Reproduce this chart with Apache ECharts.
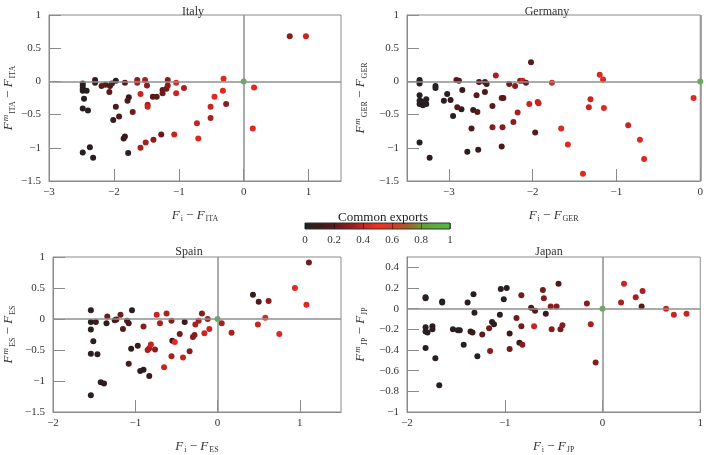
<!DOCTYPE html>
<html>
<head>
<meta charset="utf-8">
<script src="https://cdn.jsdelivr.net/npm/echarts@6/dist/echarts.min.js"></script>
<style>
  html, body { margin: 0; padding: 0; background: #fff; }
  #chart { width: 706px; height: 455px; }
</style>
</head>
<body>
<div id="chart"></div>
<script>
// [F_i - F_c, F^m_c - F_c, common exports share]
const italy = [
  [-2.48,-0.03,0.02],[-2.48,-0.07,0.02],[-2.48,-0.11,0.02],[-2.48,-0.14,0.02],[-2.42,-0.14,0.03],
  [-2.46,-0.26,0.02],[-2.48,-0.41,0.02],[-2.40,-0.44,0.03],[-2.48,-1.07,0.02],[-2.37,-0.99,0.05],
  [-2.32,-1.15,0.04],[-2.29,0.02,0.1],[-2.29,-0.02,0.12],[-2.19,-0.07,0.2],[-2.13,-0.05,0.2],
  [-2.06,-0.07,0.15],[-2.03,-0.03,0.18],[-1.97,0.01,0.05],[-2.07,-0.16,0.2],[-1.97,-0.38,0.15],
  [-1.92,-0.53,0.15],[-2.01,-0.58,0.1],[-1.83,-0.02,0.2],[-1.77,-0.24,0.1],[-1.79,-0.29,0.15],
  [-1.85,-0.86,0.1],[-1.83,-0.83,0.1],[-1.78,-1.08,0.05],[-1.71,-0.46,0.25],[-1.64,0.02,0.3],
  [-1.64,-0.02,0.35],[-1.52,0.02,0.35],[-1.49,-0.06,0.3],[-1.59,-0.19,0.4],[-1.48,-0.35,0.35],
  [-1.48,-0.38,0.4],[-1.59,-1.00,0.35],[-1.51,-0.92,0.35],[-1.39,-0.88,0.3],[-1.40,-0.23,0.2],
  [-1.34,-0.23,0.2],[-1.27,-0.80,0.22],[-1.25,-0.13,0.2],[-1.25,-0.18,0.25],[-1.19,-0.11,0.25],
  [-1.17,-0.06,0.3],[-1.17,0.02,0.3],[-1.07,-0.80,0.4],[-1.04,-0.02,0.45],[-1.04,-0.18,0.4],
  [-0.92,-0.10,0.35],[-0.72,-0.63,0.4],[-0.70,-0.86,0.45],[-0.51,-0.55,0.35],[-0.51,-0.38,0.4],
  [-0.45,-0.23,0.45],[-0.32,-0.14,0.45],[-0.31,0.04,0.45],[-0.27,-0.34,0.3],[0.16,-0.09,0.45],
  [0.14,-0.71,0.45],[0.71,0.68,0.3],[0.96,0.68,0.4],[0,0,1]
];
const germany = [
  [-3.35,0.00,0.02],[-3.35,-0.03,0.02],[-3.35,0.02,0.02],[-3.16,-0.07,0.03],[-3.16,-0.10,0.03],
  [-3.35,-0.21,0.02],[-3.35,-0.29,0.02],[-3.35,-0.34,0.02],[-3.31,-0.36,0.02],[-3.27,-0.34,0.02],
  [-3.27,-0.27,0.02],[-3.33,-0.30,0.02],[-3.35,-0.92,0.02],[-3.23,-1.15,0.04],[-3.06,-0.29,0.03],
  [-3.02,-0.19,0.03],[-2.98,-0.28,0.05],[-2.95,-0.52,0.05],[-2.91,0.02,0.15],[-2.88,0.01,0.15],
  [-2.84,-0.13,0.05],[-2.85,-0.42,0.05],[-2.90,-0.39,0.2],[-2.78,-1.06,0.05],[-2.73,-0.71,0.15],
  [-2.71,-0.43,0.1],[-2.67,-0.21,0.2],[-2.66,-0.46,0.2],[-2.65,-1.03,0.1],[-2.64,-0.01,0.15],
  [-2.57,-0.01,0.15],[-2.55,-0.04,0.15],[-2.57,-0.16,0.15],[-2.48,-0.37,0.2],[-2.48,-0.69,0.3],
  [-2.44,0.09,0.35],[-2.37,-0.25,0.25],[-2.35,-0.25,0.2],[-2.36,-0.69,0.3],[-2.37,-0.98,0.15],
  [-2.28,-0.04,0.25],[-2.21,-0.07,0.3],[-2.23,-0.61,0.3],[-2.18,-0.47,0.35],[-2.15,0.01,0.3],
  [-2.12,0.01,0.4],[-2.08,-0.02,0.25],[-2.02,0.29,0.2],[-2.04,-0.34,0.4],[-1.97,-0.77,0.2],
  [-1.94,-0.31,0.4],[-1.93,-0.33,0.4],[-1.77,-0.02,0.45],[-1.66,-0.71,0.45],[-1.58,-0.95,0.45],
  [-1.40,-1.39,0.45],[-1.33,-0.39,0.4],[-1.31,-0.27,0.4],[-1.20,0.10,0.45],[-1.16,0.03,0.45],
  [-1.15,-0.40,0.45],[-0.86,-0.66,0.4],[-0.72,-0.88,0.45],[-0.67,-1.17,0.45],[-0.08,-0.25,0.45],
  [0,0,1]
];
const spain = [
  [-1.54,0.14,0.03],[-1.54,-0.05,0.03],[-1.54,-0.17,0.03],[-1.51,-0.36,0.03],[-1.54,-0.56,0.03],
  [-1.46,-0.57,0.03],[-1.54,-1.23,0.03],[-1.48,-0.05,0.1],[-1.42,-1.02,0.05],[-1.38,-1.04,0.05],
  [-1.35,-0.07,0.05],[-1.34,0.04,0.25],[-1.25,-0.02,0.15],[-1.23,-0.01,0.15],[-1.18,0.07,0.25],
  [-1.15,-0.16,0.2],[-1.10,-0.03,0.15],[-1.08,-0.07,0.15],[-1.04,0.14,0.05],[-1.05,-0.48,0.05],
  [-0.97,-0.43,0.1],[-1.08,-0.72,0.15],[-0.94,-0.84,0.05],[-0.90,-0.82,0.05],[-0.83,-0.92,0.1],
  [-0.90,-0.12,0.3],[-0.85,-0.50,0.35],[-0.83,-0.47,0.35],[-0.81,-0.41,0.4],[-0.76,-0.49,0.3],
  [-0.74,0.07,0.4],[-0.70,-0.07,0.35],[-0.65,-0.78,0.4],[-0.62,0.09,0.35],[-0.56,-0.03,0.3],
  [-0.56,-0.60,0.35],[-0.55,-0.35,0.1],[-0.52,-0.37,0.45],[-0.46,-0.24,0.25],[-0.42,-0.62,0.4],
  [-0.40,-0.05,0.1],[-0.34,-0.52,0.3],[-0.30,-0.29,0.3],[-0.28,-0.26,0.3],[-0.27,-0.09,0.35],
  [-0.23,-0.03,0.35],[-0.19,0.09,0.3],[-0.16,-0.23,0.4],[-0.12,0.00,0.35],[-0.10,-0.16,0.4],
  [0.05,-0.07,0.35],[0.17,-0.22,0.35],[0.43,0.39,0.1],[0.50,0.28,0.15],[0.49,-0.09,0.4],
  [0.58,0.02,0.45],[0.62,0.29,0.3],[0.75,-0.24,0.45],[0.94,0.50,0.45],[1.08,0.23,0.45],
  [1.11,0.91,0.25],[0,0,1]
];
const japan = [
  [-1.81,0.11,0.03],[-1.81,0.10,0.03],[-1.81,-0.18,0.03],[-1.81,-0.22,0.03],[-1.79,-0.23,0.03],
  [-1.74,-0.17,0.03],[-1.74,-0.20,0.03],[-1.81,-0.38,0.03],[-1.71,-0.48,0.03],[-1.67,-0.74,0.03],
  [-1.64,0.07,0.03],[-1.64,0.06,0.03],[-1.53,-0.20,0.03],[-1.48,-0.21,0.03],[-1.46,-0.21,0.03],
  [-1.42,-0.35,0.03],[-1.38,0.06,0.03],[-1.35,-0.22,0.05],[-1.33,-0.23,0.1],[-1.32,0.14,0.03],
  [-1.31,-0.04,0.03],[-1.28,-0.46,0.03],[-1.23,-0.25,0.2],[-1.16,-0.19,0.25],[-1.15,-0.41,0.3],
  [-1.13,-0.13,0.05],[-1.11,-0.15,0.05],[-1.05,-0.06,0.05],[-1.04,0.19,0.03],[-1.01,0.09,0.03],
  [-0.98,0.20,0.03],[-0.95,-0.24,0.1],[-0.95,-0.39,0.25],[-0.88,-0.09,0.25],[-0.85,-0.33,0.05],
  [-0.83,0.13,0.25],[-0.83,-0.17,0.25],[-0.82,-0.35,0.3],[-0.73,0.01,0.15],[-0.70,-0.17,0.4],
  [-0.69,-0.02,0.2],[-0.61,0.18,0.25],[-0.60,0.10,0.3],[-0.58,-0.05,0.1],[-0.53,0.02,0.3],
  [-0.52,-0.20,0.3],[-0.47,0.02,0.3],[-0.45,0.24,0.15],[-0.43,-0.20,0.25],[-0.41,-0.16,0.3],
  [-0.16,0.05,0.3],[-0.12,-0.15,0.35],[-0.07,-0.52,0.3],[0.19,0.06,0.35],[0.22,0.24,0.4],
  [0.34,0.11,0.35],[0.40,0.02,0.2],[0.41,0.17,0.35],[0.65,0.00,0.4],[0.73,-0.06,0.4],
  [0.86,-0.05,0.4],[0,0,1]
];

const panelTitles = ["Italy", "Germany", "Spain", "Japan"];
const panelCodes = ["ITA", "GER", "ES", "JP"];
const colorTicks = [0, 0.2, 0.4, 0.6, 0.8, 1];
// colour scale of "Common exports", evenly spaced from 0 to 1
const shareColors = ["#222022", "#3a1a1c", "#5a1a1c", "#8a1c1e", "#c82420", "#f03022",
  "#d83a22", "#a85a28", "#6a9a34", "#58b03c", "#50bb40"];

const serif = "Liberation Serif";
const minus = v => String(+v.toFixed(2)).replace("-", "\u2212");

const grids = [
  { left: 47, top: 15, width: 294, height: 166 },
  { left: 407, top: 15, width: 295, height: 166 },
  { left: 47, top: 257, width: 294, height: 165 },
  { left: 407, top: 257, width: 295, height: 165 },
  { left: 305, top: 223, width: 145, height: 6 } // colour bar
];
const xRanges = [[-3, 1.5, 1], [-3.5, 0, null], [-2, 1.5, 1], [-2, 1, 1]];
const yRanges = [[-1.5, 1, 0.5], [-1.5, 1, 0.5], [-1.5, 1, 0.5], [-1, 0.5, 0.2]];
const yNameGaps = [32, 38, 36, 38];
const xShowMax = [false, true, false, true];
const xShowMin = [true, false, true, true];

const rich = {
  it: { fontFamily: serif, fontStyle: "italic", fontSize: 13, color: "#333" },
  op: { fontFamily: serif, fontSize: 13, color: "#333" },
  sb: { fontFamily: serif, fontSize: 8, color: "#333", padding: [7, 0, 0, 1] },
  sp: { fontFamily: serif, fontStyle: "italic", fontSize: 9, color: "#333", padding: [0, 0, 7, 1] }
};

const chart = echarts.init(document.getElementById("chart"));

const xAxis = [], yAxis = [], series = [], titles = [];
const sets = [italy, germany, spain, japan];
const titlePos = [[188, 1], [542, 1], [184, 241], [544, 241]];

for (let i = 0; i < 4; i++) {
  const code = panelCodes[i];
  xAxis.push({
    type: "value", gridIndex: i,
    min: xRanges[i][0], max: xRanges[i][1],
    interval: xRanges[i][2] || undefined,
    splitNumber: 4,
    name: "{it|F}{sb|i}{op| \u2212 }{it|F}{sb|" + code + "}",
    nameLocation: "middle", nameGap: 27,
    nameTextStyle: { rich: rich },
    axisLine: { onZero: false, lineStyle: { color: "#8a8a8a" } },
    axisTick: { inside: true, length: 12, lineStyle: { color: "#8a8a8a" } },
    axisLabel: { fontFamily: serif, fontSize: 11, color: "#333", margin: 6,
      showMinLabel: xShowMin[i], showMaxLabel: xShowMax[i], formatter: minus },
    splitLine: { show: false }
  });
  yAxis.push({
    type: "value", gridIndex: i,
    min: yRanges[i][0], max: yRanges[i][1], interval: yRanges[i][2],
    name: "{it|F}{sp|m}{sb|" + code + "}{op| \u2212 }{it|F}{sb|" + code + "}",
    nameLocation: "middle", nameGap: yNameGaps[i],
    nameTextStyle: { rich: rich },
    axisLine: { onZero: false, lineStyle: { color: "#8a8a8a" } },
    axisTick: { inside: true, length: 12, lineStyle: { color: "#8a8a8a" } },
    axisLabel: { fontFamily: serif, fontSize: 11, color: "#333", margin: 8,
      showMaxLabel: i === 3 ? false : true, formatter: minus },
    splitLine: { show: false }
  });
  series.push({
    type: "scatter", xAxisIndex: i, yAxisIndex: i,
    data: sets[i], symbolSize: 6, z: 3,
    itemStyle: { opacity: 1 }
  });
  titles.push({
    text: panelTitles[i], left: titlePos[i][0], top: titlePos[i][1], textAlign: "center",
    textStyle: { fontFamily: serif, fontSize: 12, fontWeight: "normal", color: "#333" }
  });
}
// zero lines
for (let i = 0; i < 4; i++) {
  series.push({
    type: "scatter", xAxisIndex: i, yAxisIndex: i, data: [], z: 1, silent: true,
    markLine: {
      silent: true, symbol: "none", label: { show: false },
      lineStyle: { color: "#8f8f8f", width: 1.5, type: "solid" },
      data: [{ xAxis: 0 }, { yAxis: 0 }]
    }
  });
}

// colour bar
const stops = shareColors.map((c, k) => ({ offset: k / (shareColors.length - 1), color: c }));
grids[4].show = true;
grids[4].borderColor = "#333";
grids[4].borderWidth = 1;
grids[4].backgroundColor = new echarts.graphic.LinearGradient(0, 0, 1, 0, stops);
xAxis.push({
  type: "value", gridIndex: 4, min: 0, max: 1, interval: 0.2,
  axisLine: { show: false }, axisTick: { show: false },
  axisLabel: { fontFamily: serif, fontSize: 11, color: "#333", margin: 6,
    formatter: v => colorTicks.indexOf(+v.toFixed(1)) >= 0 ? String(+v.toFixed(1)) : "" },
  splitLine: { show: true, lineStyle: { color: "rgba(0,0,0,0.45)", width: 1 } }
});
yAxis.push({ type: "value", gridIndex: 4, show: false, min: 0, max: 1 });
titles.push({
  text: "Common exports", left: 378, top: 206, textAlign: "center",
  textStyle: { fontFamily: serif, fontSize: 13, fontWeight: "normal", color: "#222" }
});

grids.slice(0, 4).forEach(g => { g.show = true; g.borderColor = "#8a8a8a"; g.borderWidth = 1; });

chart.setOption({
  animation: false,
  backgroundColor: "#fff",
  title: titles,
  grid: grids,
  xAxis: xAxis,
  yAxis: yAxis,
  visualMap: {
    type: "continuous", show: false, min: 0, max: 1, dimension: 2,
    seriesIndex: [0, 1, 2, 3],
    inRange: { color: shareColors }
  },
  series: series
});
</script>
</body>
</html>
